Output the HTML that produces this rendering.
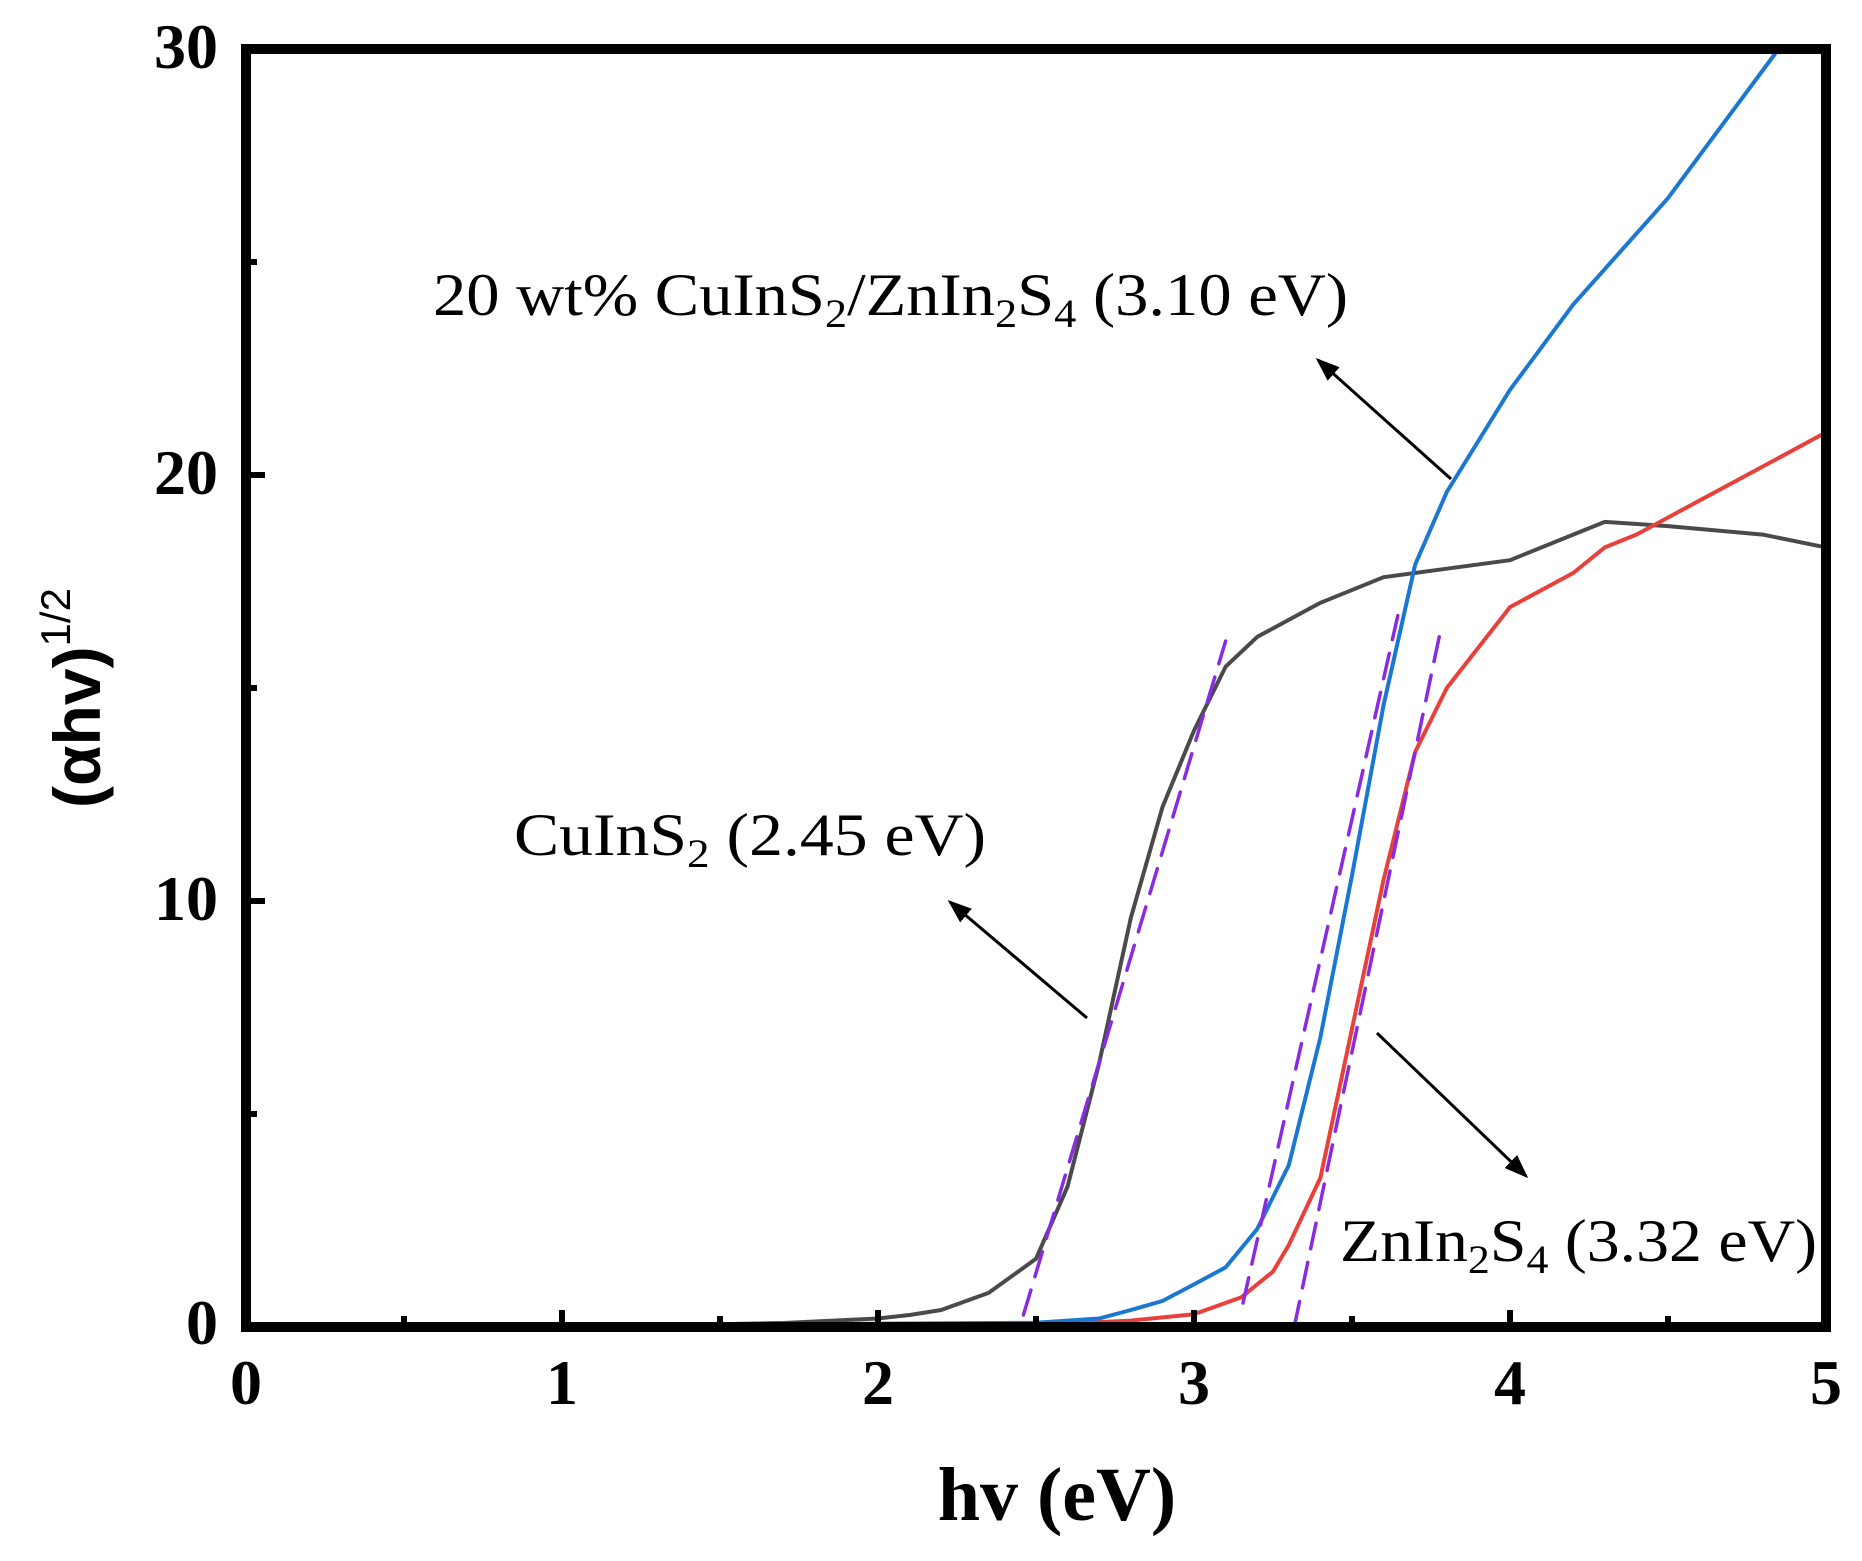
<!DOCTYPE html>
<html><head><meta charset="utf-8"><style>
html,body{margin:0;padding:0;background:#fff;}
svg{display:block;}
</style></head><body>
<svg width="1862" height="1561" viewBox="0 0 1862 1561" xmlns="http://www.w3.org/2000/svg">
<rect width="1862" height="1561" fill="#fff"/>
<g fill="none" stroke-linejoin="round" stroke-linecap="round">
<polyline stroke="#4a4a4a" stroke-width="4" points="688.4,1324.9 783.2,1323 878,1318.5 909.6,1315 941.2,1310 988.6,1292.9 1036,1258.8 1067.6,1186.4 1099.2,1062.9 1130.8,918 1162.4,807.3 1194,730.6 1225.6,666.7 1257.2,636.9 1320.4,602.8 1383.6,577.2 1446.8,568.7 1510,560.2 1573.2,534.6 1604.8,521.9 1668,526.1 1762.8,534.6 1826,547.4"/>
<polyline stroke="#e8413c" stroke-width="4" points="1036,1325 1130.8,1320.6 1194,1314.2 1241.4,1297.2 1273,1271.6 1288.8,1245 1320.4,1177.9 1352,1028.8 1383.6,879.7 1415.2,751.9 1446.8,688 1510,607.1 1573.2,573 1604.8,547.4 1636.4,534.6 1699.6,500.5 1762.8,466.5 1826,432.4"/>
<polyline stroke="#1a78d2" stroke-width="4" points="688.4,1325 1036,1322.7 1099.2,1318.5 1130.8,1310 1162.4,1301 1194,1284.4 1225.6,1267.4 1257.2,1229 1288.8,1165.1 1320.4,1037.3 1352,875.4 1383.6,705 1415.2,564.5 1446.8,492 1510,389.8 1573.2,304.6 1668,198.1 1778.6,49"/>
<g stroke="#8a2be2" stroke-width="3.5" stroke-dasharray="26,14">
<line x1="1023.4" y1="1315" x2="1225.6" y2="641.1"/>
<line x1="1243" y1="1303.1" x2="1397.8" y2="615.6"/>
<line x1="1294.2" y1="1327" x2="1439.2" y2="636.9"/>
</g>
</g>
<rect x="246" y="49" width="1580" height="1278" fill="none" stroke="#000" stroke-width="10"/>
<g stroke="#000" stroke-width="6">
<line x1="562" y1="1327" x2="562" y2="1310"/>
<line x1="878" y1="1327" x2="878" y2="1310"/>
<line x1="1194" y1="1327" x2="1194" y2="1310"/>
<line x1="1510" y1="1327" x2="1510" y2="1310"/>
<line x1="404" y1="1327" x2="404" y2="1316"/>
<line x1="720" y1="1327" x2="720" y2="1316"/>
<line x1="1036" y1="1327" x2="1036" y2="1316"/>
<line x1="1352" y1="1327" x2="1352" y2="1316"/>
<line x1="1668" y1="1327" x2="1668" y2="1316"/>
<line x1="246" y1="901" x2="265" y2="901"/>
<line x1="246" y1="475" x2="265" y2="475"/>
<line x1="246" y1="1114" x2="257" y2="1114"/>
<line x1="246" y1="688" x2="257" y2="688"/>
<line x1="246" y1="262" x2="257" y2="262"/>
</g>
<g font-family="Liberation Serif, serif" font-weight="bold" font-size="64" fill="#000">
<text x="218" y="1344" text-anchor="end">0</text>
<text x="218" y="920" text-anchor="end">10</text>
<text x="218" y="494" text-anchor="end">20</text>
<text x="218" y="68" text-anchor="end">30</text>
<text x="246" y="1404" text-anchor="middle">0</text>
<text x="562" y="1404" text-anchor="middle">1</text>
<text x="878" y="1404" text-anchor="middle">2</text>
<text x="1194" y="1404" text-anchor="middle">3</text>
<text x="1510" y="1404" text-anchor="middle">4</text>
<text x="1826" y="1404" text-anchor="middle">5</text>
<text x="1057" y="1520" text-anchor="middle" font-size="76">hv (eV)</text>
</g>
<text transform="translate(100,808) rotate(-90)" font-family="Liberation Sans, sans-serif" font-weight="bold" font-size="66" fill="#000">(αhv)<tspan font-size="42" font-weight="normal" dy="-30">1/2</tspan></text>
<g font-family="Liberation Serif, serif" font-size="60" fill="#000">
<text x="433" y="315" textLength="915" lengthAdjust="spacingAndGlyphs">20 wt% CuInS<tspan font-size="40" dy="12">2</tspan><tspan dy="-12">/ZnIn</tspan><tspan font-size="40" dy="12">2</tspan><tspan dy="-12">S</tspan><tspan font-size="40" dy="12">4</tspan><tspan dy="-12"> (3.10 eV)</tspan></text>
<text x="514" y="855" textLength="472" lengthAdjust="spacingAndGlyphs">CuInS<tspan font-size="40" dy="12">2</tspan><tspan dy="-12"> (2.45 eV)</tspan></text>
<text x="1340" y="1261" textLength="477" lengthAdjust="spacingAndGlyphs">ZnIn<tspan font-size="40" dy="12">2</tspan><tspan dy="-12">S</tspan><tspan font-size="40" dy="12">4</tspan><tspan dy="-12"> (3.32 eV)</tspan></text>
</g>
<defs><marker id="ah" markerWidth="8" markerHeight="8" refX="7" refY="4" orient="auto" markerUnits="strokeWidth"><path d="M0,1 L8,4 L0,7 Z" fill="#000"/></marker></defs>
<g stroke="#000" stroke-width="3" marker-end="url(#ah)">
<line x1="1451" y1="479" x2="1318" y2="360"/>
<line x1="1087" y1="1018" x2="950" y2="902"/>
<line x1="1377" y1="1033" x2="1526" y2="1176"/>
</g>
</svg>
</body></html>
